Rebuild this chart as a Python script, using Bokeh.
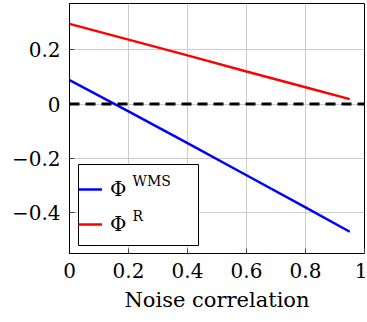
from bokeh.plotting import figure
from bokeh.models import (FixedTicker, CustomJSTickFormatter, Legend, LegendItem, Label, Span,
                          BoxAnnotation)
from bokeh.embed import file_html
from bokeh.resources import INLINE

noise_corr = [0.0, 0.2, 0.4, 0.6, 0.8, 0.95]
phi_wms = [0.088, -0.027, -0.144, -0.262, -0.380, -0.470]
phi_r = [0.295, 0.237, 0.179, 0.120, 0.062, 0.018]
x_ticks = [0, 0.2, 0.4, 0.6, 0.8, 1.0]
y_ticks = [-0.4, -0.2, 0, 0.2]
x_label = "Noise correlation"
series_names = ["Φ", "Φ"]
superscripts = ["WMS", "R"]

FONT = "DejaVu Serif"
X0, X1 = 0.0, 1.0
Y0, Y1 = -0.55, 0.37
FRAME_W, FRAME_H = 295, 250

p = figure(width=367, height=322, output_backend="svg", toolbar_location=None,
           x_range=(X0, X1), y_range=(Y0, Y1),
           min_border_left=69, min_border_right=3, min_border_top=3, min_border_bottom=69)
p.outline_line_color = "black"
p.outline_line_width = 1
p.background_fill_color = "white"

fmt = CustomJSTickFormatter(code="""
if (Math.abs(tick) < 1e-9) return '0';
var s = (Math.round(tick*10)/10).toString();
return s.replace('-', '\u2212');
""")

for ax, ticks in ((p.xaxis[0], x_ticks), (p.yaxis[0], y_ticks)):
    ax.ticker = FixedTicker(ticks=ticks)
    ax.formatter = fmt
    ax.major_tick_in = 5
    ax.major_tick_out = 0
    ax.minor_tick_line_color = None
    ax.major_tick_line_color = "#444444"
    ax.axis_line_color = "black"
    ax.major_label_text_font = FONT
    ax.major_label_text_font_size = "20px"
    ax.major_label_text_color = "black"
    ax.major_label_standoff = 9

p.xaxis.axis_label = x_label
p.xaxis.axis_label_text_font = FONT
p.xaxis.axis_label_text_font_size = "21px"
p.xaxis.axis_label_text_font_style = "normal"
p.xaxis.axis_label_text_color = "black"
p.xaxis.axis_label_standoff = 7

p.xgrid.ticker = FixedTicker(ticks=x_ticks)
p.ygrid.ticker = FixedTicker(ticks=y_ticks)
p.grid.grid_line_color = "#cccccc"
p.grid.grid_line_width = 1

p.add_layout(Span(location=0, dimension="width", line_color="black",
                  line_width=3, line_dash="10 6"))

r1 = p.line(noise_corr, phi_wms, line_color="blue", line_width=2.5)
r2 = p.line(noise_corr, phi_r, line_color="red", line_width=2.5)

# legend frame (white box over the grid), placed 9px/8px from the frame's lower-left corner
def sx(px):
    return X0 + px * (X1 - X0) / FRAME_W

def sy(px):
    return Y0 + px * (Y1 - Y0) / FRAME_H

p.add_layout(BoxAnnotation(left=sx(9), right=sx(129), bottom=sy(8), top=sy(89),
                           fill_color="white", fill_alpha=1,
                           line_color="black", line_width=1, line_alpha=1,
                           level="annotation"))

legend = Legend(items=[LegendItem(label=series_names[0], renderers=[r1]),
                       LegendItem(label=series_names[1], renderers=[r2])],
                location=(9, 14), orientation="vertical")
legend.border_line_color = None
legend.background_fill_alpha = 0
legend.label_text_font = FONT
legend.label_text_font_size = "20px"
legend.label_text_color = "black"
legend.glyph_width = 24
legend.glyph_height = 30
legend.label_height = 30
legend.label_width = 72
legend.label_standoff = 8
legend.spacing = 5
legend.padding = 7
legend.margin = 0
p.add_layout(legend, "center")

for txt, yy in zip(superscripts, (65, 30)):
    p.add_layout(Label(x=63, y=yy, x_units="screen", y_units="screen", text=txt,
                       level="overlay",
                       text_font=FONT, text_font_size="14px", text_color="black"))

open("out.html", "w").write(file_html(p, INLINE))
